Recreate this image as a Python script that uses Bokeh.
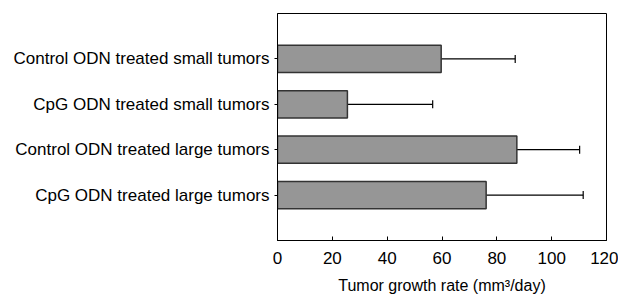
from bokeh.plotting import figure
from bokeh.models import FactorRange, Range1d, ColumnDataSource, Whisker, TeeHead, FixedTicker
from bokeh.embed import file_html
from bokeh.resources import INLINE

categories = ["Control ODN treated small tumors", "CpG ODN treated small tumors",
              "Control ODN treated large tumors", "CpG ODN treated large tumors"]
rates = [59.7, 25.5, 87.3, 76.1]
errors = [27.0, 31.1, 22.9, 35.4]
x_ticks = [0, 20, 40, 60, 80, 100, 120]

upper = [r + e for r, e in zip(rates, errors)]
src = ColumnDataSource(dict(cat=categories, rate=rates, upper=upper))

FONT = "Liberation Sans"
p = figure(width=618, height=296, output_backend="svg", toolbar_location=None,
           y_range=FactorRange(*reversed(categories), range_padding=0.5, range_padding_units="absolute"),
           x_range=Range1d(0, 120),
           min_border_left=277, min_border_right=12, min_border_top=13, min_border_bottom=53)

p.hbar(y="cat", left=0, right="rate", height=0.6, source=src,
       fill_color="#969696", line_color="#333333", line_width=1.5)

w = Whisker(base="cat", lower="rate", upper="upper", dimension="width", source=src,
            line_color="black", line_width=1.2,
            upper_head=TeeHead(size=8, line_color="black", line_width=1.2), lower_head=None)
p.add_layout(w)

p.xgrid.visible = False
p.ygrid.visible = False
p.outline_line_color = "black"
p.outline_line_width = 1
p.outline_line_alpha = 1

p.xaxis.ticker = FixedTicker(ticks=x_ticks)
p.xaxis.minor_tick_line_color = None
p.xaxis.major_tick_in = 4
p.xaxis.major_tick_out = 0
p.xaxis.major_label_standoff = 11
p.xaxis.axis_label = "Tumor growth rate (mm³/day)"
p.xaxis.axis_label_standoff = 10
p.xaxis.axis_label_text_font_style = "normal"

p.yaxis.major_tick_in = 0
p.yaxis.major_tick_out = 3
p.yaxis.major_label_standoff = 5

for ax in (p.xaxis, p.yaxis):
    ax.axis_line_color = "black"
    ax.major_tick_line_color = "black"
    ax.major_label_text_font = FONT
    ax.major_label_text_font_size = "17px"
    ax.major_label_text_color = "black"
    ax.axis_label_text_font = FONT
    ax.axis_label_text_font_size = "16px"
    ax.axis_label_text_color = "black"

open("out.html", "w").write(file_html(p, INLINE))
